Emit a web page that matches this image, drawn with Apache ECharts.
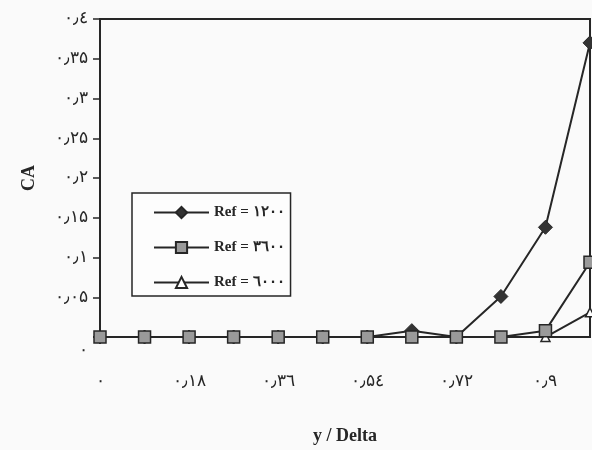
<!DOCTYPE html>
<html>
<head>
<meta charset="utf-8">
<script src="https://cdn.jsdelivr.net/npm/echarts@6/dist/echarts.min.js"></script>
<style>
html,body{margin:0;padding:0;background:#fafafa;}
#chart{width:592px;height:450px;}
</style>
</head>
<body>
<div id="chart"></div>
<script>
// Data
const xValues = [0, 0.09, 0.18, 0.27, 0.36, 0.45, 0.54, 0.63, 0.72, 0.81, 0.90, 0.99];
const ref1200 = [0, 0, 0, 0, 0, 0, 0, 0.008, 0, 0.051, 0.138, 0.37];
const ref3600 = [0, 0, 0, 0, 0, 0, 0, 0, 0, 0, 0.008, 0.094];
const ref6000 = [0, 0, 0, 0, 0, 0, 0, 0, 0, 0, 0, 0.031];
const seriesNames = ['Ref = ١٢٠٠', 'Ref = ٣٦٠٠', 'Ref = ٦٠٠٠'];
const xTickLabels = {'0': '٠', '0.18': '٠٫١٨', '0.36': '٠٫٣٦', '0.54': '٠٫۵٤', '0.72': '٠٫٧٢', '0.9': '٠٫٩'};
const yTickLabels = {'0': '٠', '0.05': '٠٫٠۵', '0.1': '٠٫١', '0.15': '٠٫١۵', '0.2': '٠٫٢', '0.25': '٠٫٢۵', '0.3': '٠٫٣', '0.35': '٠٫٣۵', '0.4': '٠٫٤'};

const ink = '#262626';
const serif = '"Liberation Serif", "DejaVu Serif", serif';
const key = v => String(Math.round(v * 100) / 100);
const pairs = ys => xValues.map((x, i) => [x, ys[i]]);

const chart = echarts.init(document.getElementById('chart'));
chart.setOption({
  backgroundColor: '#fafafa',
  animation: false,
  grid: {left: 100, right: 2, top: 19, bottom: 112, show: true, borderColor: ink, borderWidth: 2, backgroundColor: 'transparent'},
  legend: {
    orient: 'vertical', left: 132, top: 193,
    backgroundColor: '#fdfdfd', borderColor: ink, borderWidth: 1.5,
    padding: [12, 6, 6, 21], itemWidth: 55, itemHeight: 14, itemGap: 20,
    textStyle: {fontFamily: serif, fontWeight: 'bold', fontSize: 15, color: ink},
    data: seriesNames
  },
  xAxis: {
    type: 'value', min: 0, max: 0.99, interval: 0.18,
    axisLine: {lineStyle: {color: ink, width: 2}},
    axisTick: {show: false},
    splitLine: {show: false},
    axisLabel: {margin: 36, fontFamily: serif, fontSize: 17, color: ink, showMaxLabel: false,
      formatter: v => xTickLabels[key(v)] ?? ''},
    name: 'y / Delta', nameLocation: 'middle', nameGap: 90,
    nameTextStyle: {fontFamily: serif, fontWeight: 'bold', fontSize: 18, color: ink}
  },
  yAxis: {
    type: 'value', min: 0, max: 0.4, interval: 0.05,
    axisLine: {lineStyle: {color: ink, width: 2}},
    axisTick: {show: true, inside: false, length: 7, lineStyle: {color: ink, width: 1.5}},
    splitLine: {show: false},
    axisLabel: {margin: 12, fontFamily: serif, fontSize: 17, color: ink,
      formatter: v => key(v) === '0' ? '{z|٠}' : (yTickLabels[key(v)] ?? ''),
      rich: {z: {padding: [28, 0, 0, 0], fontFamily: serif, fontSize: 17, color: ink}}},
    name: 'CA', nameLocation: 'middle', nameGap: 62, nameRotate: 90,
    nameTextStyle: {fontFamily: serif, fontWeight: 'bold', fontSize: 18, color: ink}
  },
  series: [
    {name: seriesNames[0], type: 'line', data: pairs(ref1200), symbol: 'diamond', symbolSize: 14, clip: false,
      lineStyle: {color: ink, width: 2}, itemStyle: {color: '#333333', borderColor: ink, borderWidth: 1}, z: 3},
    {name: seriesNames[1], type: 'line', data: pairs(ref3600), symbol: 'rect', symbolSize: 12, clip: false,
      lineStyle: {color: ink, width: 2}, itemStyle: {color: '#9a9a9a', borderColor: ink, borderWidth: 1.5}, z: 4},
    {name: seriesNames[2], type: 'line', data: pairs(ref6000), symbol: 'triangle', symbolSize: 9, clip: false,
      lineStyle: {color: ink, width: 2}, itemStyle: {color: '#ffffff', borderColor: ink, borderWidth: 1.5}, z: 2}
  ]
});
</script>
</body>
</html>
